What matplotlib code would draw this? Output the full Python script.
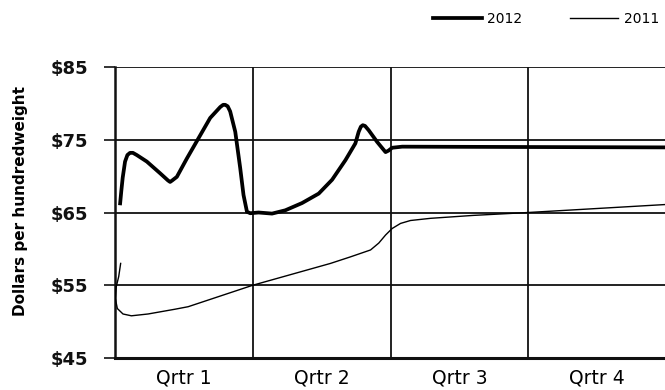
import matplotlib
matplotlib.use("Agg")
import matplotlib.pyplot as plt
from matplotlib.lines import Line2D

plt.rcParams['font.family'] = ['DejaVu Sans']

# Data (x in quarters from start of year, y in $ per hundredweight)
x_2012 = [0.036, 0.046, 0.056, 0.073, 0.090, 0.109, 0.130, 0.158, 0.231, 0.327,
          0.385, 0.400, 0.415, 0.449, 0.521, 0.606, 0.691, 0.764, 0.785, 0.800,
          0.818, 0.836, 0.873, 0.909, 0.933, 0.958, 0.982, 1.042, 1.140, 1.236,
          1.358, 1.479, 1.576, 1.673, 1.745, 1.769, 1.785, 1.799, 1.815, 1.842,
          1.903, 1.964, 1.985, 2.012, 2.085, 3.000, 4.000]
y_2012 = [66.0, 68.0, 69.8, 72.0, 72.9, 73.2, 73.2, 72.9, 72.0, 70.4,
          69.4, 69.2, 69.4, 69.9, 72.4, 75.2, 78.0, 79.5, 79.8, 79.8,
          79.6, 78.9, 76.1, 71.1, 67.4, 65.1, 64.9, 65.0, 64.85, 65.3,
          66.3, 67.6, 69.5, 72.2, 74.5, 76.1, 76.8, 77.0, 76.9, 76.3,
          74.7, 73.3, 73.5, 73.9, 74.05, 74.0, 73.95]

x_2011 = [0.041, 0.027, 0.009, 0.002, 0.017, 0.058, 0.119, 0.240, 0.434, 0.531,
          1.000, 1.564, 1.709, 1.855, 1.915, 1.964, 2.012, 2.073, 2.145, 2.291,
          2.600, 3.000, 4.000]
y_2011 = [58.0, 56.2, 54.8, 53.2, 51.8, 51.05, 50.8, 51.05, 51.7, 52.05,
          55.0, 58.0, 58.9, 59.85, 60.8, 61.9, 62.8, 63.5, 63.9, 64.2,
          64.6, 65.0, 66.1]

y_ticks = [45, 55, 65, 75, 85]
y_tick_labels = ["$45", "$55", "$65", "$75", "$85"]
quarter_labels = ["Qrtr 1", "Qrtr 2", "Qrtr 3", "Qrtr 4"]
series_names = ["2012", "2011"]

W, H = 665, 390
fig = plt.figure(figsize=(W / 100, H / 100), dpi=100)
ax = fig.add_axes([115 / W, 1 - 358 / H, 551 / W, 291 / H])

line_color = "#111111"
ax.plot(x_2012, y_2012, color="black", lw=2.7, solid_joinstyle="round",
        solid_capstyle="butt", zorder=3)
ax.plot(x_2011, y_2011, color="black", lw=1.0, solid_joinstyle="round", zorder=3)

ax.set_xlim(0, 4)
ax.set_ylim(45, 85)

ax.set_yticks(y_ticks)
ax.set_yticklabels(y_tick_labels, fontsize=13, fontweight="bold")
ax.tick_params(axis="y", direction="out", length=8, width=1.2, pad=11, colors=line_color)

ax.set_xticks([0, 1, 2, 3, 4])
ax.set_xticklabels([])
ax.set_xticks([0.5, 1.5, 2.5, 3.5], minor=True)
ax.set_xticklabels(quarter_labels, minor=True, fontsize=13.5)
ax.tick_params(axis="x", which="both", length=0, pad=7.5)

ax.grid(True, axis="both", which="major", color=line_color, lw=1.3)
ax.set_axisbelow(True)

for s in ["top", "right"]:
    ax.spines[s].set_visible(False)
ax.spines["left"].set_linewidth(1.8)
ax.spines["bottom"].set_linewidth(2.2)
ax.spines["left"].set_color(line_color)
ax.spines["bottom"].set_color(line_color)

ax.set_ylabel("Dollars per hundredweight", fontsize=11, fontweight="bold")
ax.yaxis.set_label_coords(-0.158, 0.54)

handles = [Line2D([], [], color="black", lw=2.7),
           Line2D([], [], color="black", lw=1.0)]
fig.legend(handles, series_names, loc="center right", bbox_to_anchor=(659 / W, 1 - 19 / H),
           ncol=2, frameon=False, fontsize=10, handlelength=3.5, handletextpad=0.4,
           columnspacing=3.4, borderaxespad=0, borderpad=0)

fig.savefig("out.png", dpi=100)
